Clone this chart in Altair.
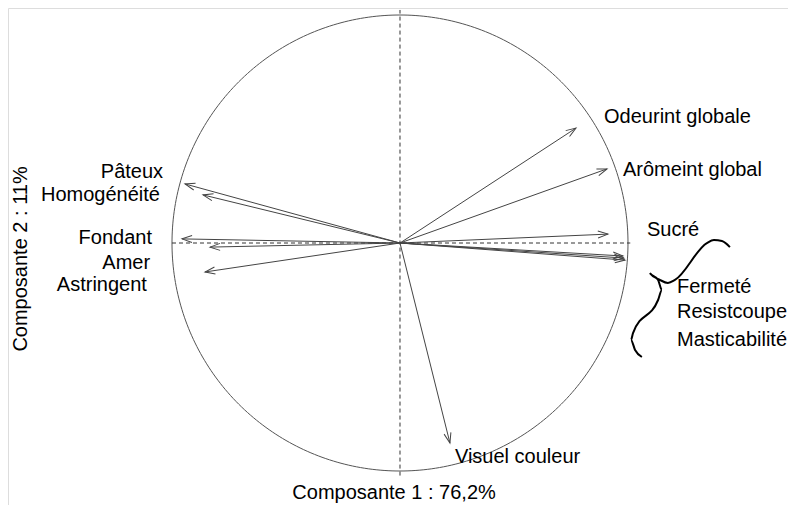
import numpy as np
import pandas as pd
import altair as alt

# --- data (loadings on components 1 and 2) ---
variables = ["Odeurint globale", "Arômeint global", "Sucré", "Fermeté", "Resistcoupe",
             "Masticabilité", "Visuel couleur", "Pâteux", "Homogénéité", "Fondant",
             "Amer", "Astringent"]
comp1 = [0.772, 0.908, 0.912, 0.978, 0.987, 0.982, 0.219, -0.943, -0.864, -0.956, -0.833, -0.855]
comp2 = [0.504, 0.325, 0.039, -0.057, -0.075, -0.066, -0.877, 0.259, 0.211, 0.018, -0.018, -0.127]

# label anchor positions (data units) and alignment
label_text = ["Odeurint globale", "Arômeint global", "Sucré", "Fermeté", "Resistcoupe",
              "Masticabilité", "Visuel couleur", "Pâteux", "Homogénéité", "Fondant",
              "Amer", "Astringent"]
label_x = [0.895, 0.978, 1.083, 1.215, 1.215, 1.215, 0.241, -1.039, -1.053, -1.088, -1.096, -1.110]
label_y = [0.553, 0.320, 0.057, -0.193, -0.303, -0.425, -0.939, 0.311, 0.211, 0.022, -0.088, -0.184]
label_align = ["left"] * 7 + ["right"] * 5

# curly brace annotation (data units)
brace_x = [1.447, 1.412, 1.377, 1.346, 1.206, 1.175, 1.140, 1.096, 1.132, 1.149, 1.132, 1.022, 1.013, 1.031, 1.061]
brace_y = [-0.018, 0.009, 0.013, 0.0, -0.162, -0.175, -0.162, -0.132, -0.162, -0.206, -0.250, -0.395, -0.425, -0.469, -0.500]

x_title = "Composante 1 : 76,2%"
y_title = "Composante 2 : 11%"

# --- scales (equal units on both axes) ---
XDOM = [-1.7193, 1.7018]
YDOM = [-1.1491, 1.0307]
W, H = 780, 497
FONT = "Liberation Sans"

def xs():
    return alt.Scale(domain=XDOM, nice=False, zero=False)

def ys():
    return alt.Scale(domain=YDOM, nice=False, zero=False)

arrows = pd.DataFrame({"var": variables, "x": comp1, "y": comp2, "x0": 0.0, "y0": 0.0})
arrows["ang"] = (90 - np.degrees(np.arctan2(arrows["y"], arrows["x"]))) % 360

t = np.linspace(0, 2 * np.pi, 361)
circle = pd.DataFrame({"x": np.cos(t), "y": np.sin(t), "o": np.arange(361)})

axes_df = pd.DataFrame({"x": [-1.0, 0.0], "x2": [1.01, 0.0], "y": [0.0, -1.02], "y2": [0.0, 1.022]})

labels = pd.DataFrame({"t": label_text, "x": label_x, "y": label_y, "a": label_align})
brace = pd.DataFrame({"x": brace_x, "y": brace_y, "o": range(len(brace_x))})

circ = alt.Chart(circle).mark_line(color="#555", strokeWidth=1).encode(
    x=alt.X("x:Q", scale=xs(), axis=None),
    y=alt.Y("y:Q", scale=ys(), axis=None),
    order="o:Q",
)

dashes = alt.Chart(axes_df).mark_rule(color="#333", strokeWidth=1, strokeDash=[4, 3]).encode(
    x=alt.X("x:Q", scale=xs(), axis=None), x2="x2:Q",
    y=alt.Y("y:Q", scale=ys(), axis=None), y2="y2:Q",
)

shafts = alt.Chart(arrows).mark_rule(color="#444", strokeWidth=1).encode(
    x=alt.X("x0:Q", scale=xs(), axis=None), x2="x:Q",
    y=alt.Y("y0:Q", scale=ys(), axis=None), y2="y:Q",
)

heads = alt.Chart(arrows).mark_point(
    shape="M-0.35,1L0,0L0.35,1", filled=False, color="#444", strokeWidth=1, size=400, opacity=1
).encode(
    x=alt.X("x:Q", scale=xs(), axis=None),
    y=alt.Y("y:Q", scale=ys(), axis=None),
    angle=alt.Angle("ang:Q", scale=None),
)

def label_layer(align):
    return alt.Chart(labels[labels["a"] == align]).mark_text(
        align=align, baseline="middle", font=FONT, fontSize=20, color="black"
    ).encode(
        x=alt.X("x:Q", scale=xs(), axis=None),
        y=alt.Y("y:Q", scale=ys(), axis=None),
        text="t:N",
    )

brace_layer = alt.Chart(brace).mark_line(color="black", strokeWidth=2, interpolate="monotone").encode(
    x=alt.X("x:Q", scale=xs(), axis=None),
    y=alt.Y("y:Q", scale=ys(), axis=None),
    order="o:Q",
)

titles = pd.DataFrame({"t": [x_title], "x": [-0.026], "y": [-1.098]})
xt = alt.Chart(titles).mark_text(font=FONT, fontSize=20, color="black", baseline="middle").encode(
    x=alt.X("x:Q", scale=xs(), axis=None), y=alt.Y("y:Q", scale=ys(), axis=None), text="t:N"
)
ytitles = pd.DataFrame({"t": [y_title], "x": [-1.662], "y": [-0.070]})
yt = alt.Chart(ytitles).mark_text(font=FONT, fontSize=20, color="black", baseline="middle", angle=270).encode(
    x=alt.X("x:Q", scale=xs(), axis=None), y=alt.Y("y:Q", scale=ys(), axis=None), text="t:N"
)

chart = alt.layer(
    circ, dashes, shafts, heads, label_layer("left"), label_layer("right"), brace_layer, xt, yt
).properties(
    width=W, height=H, autosize=alt.AutoSizeParams(type="none"), padding=0
).configure_view(stroke=None).configure(background="white")

chart.save("out.html", embed_options={"renderer": "svg", "actions": False})
